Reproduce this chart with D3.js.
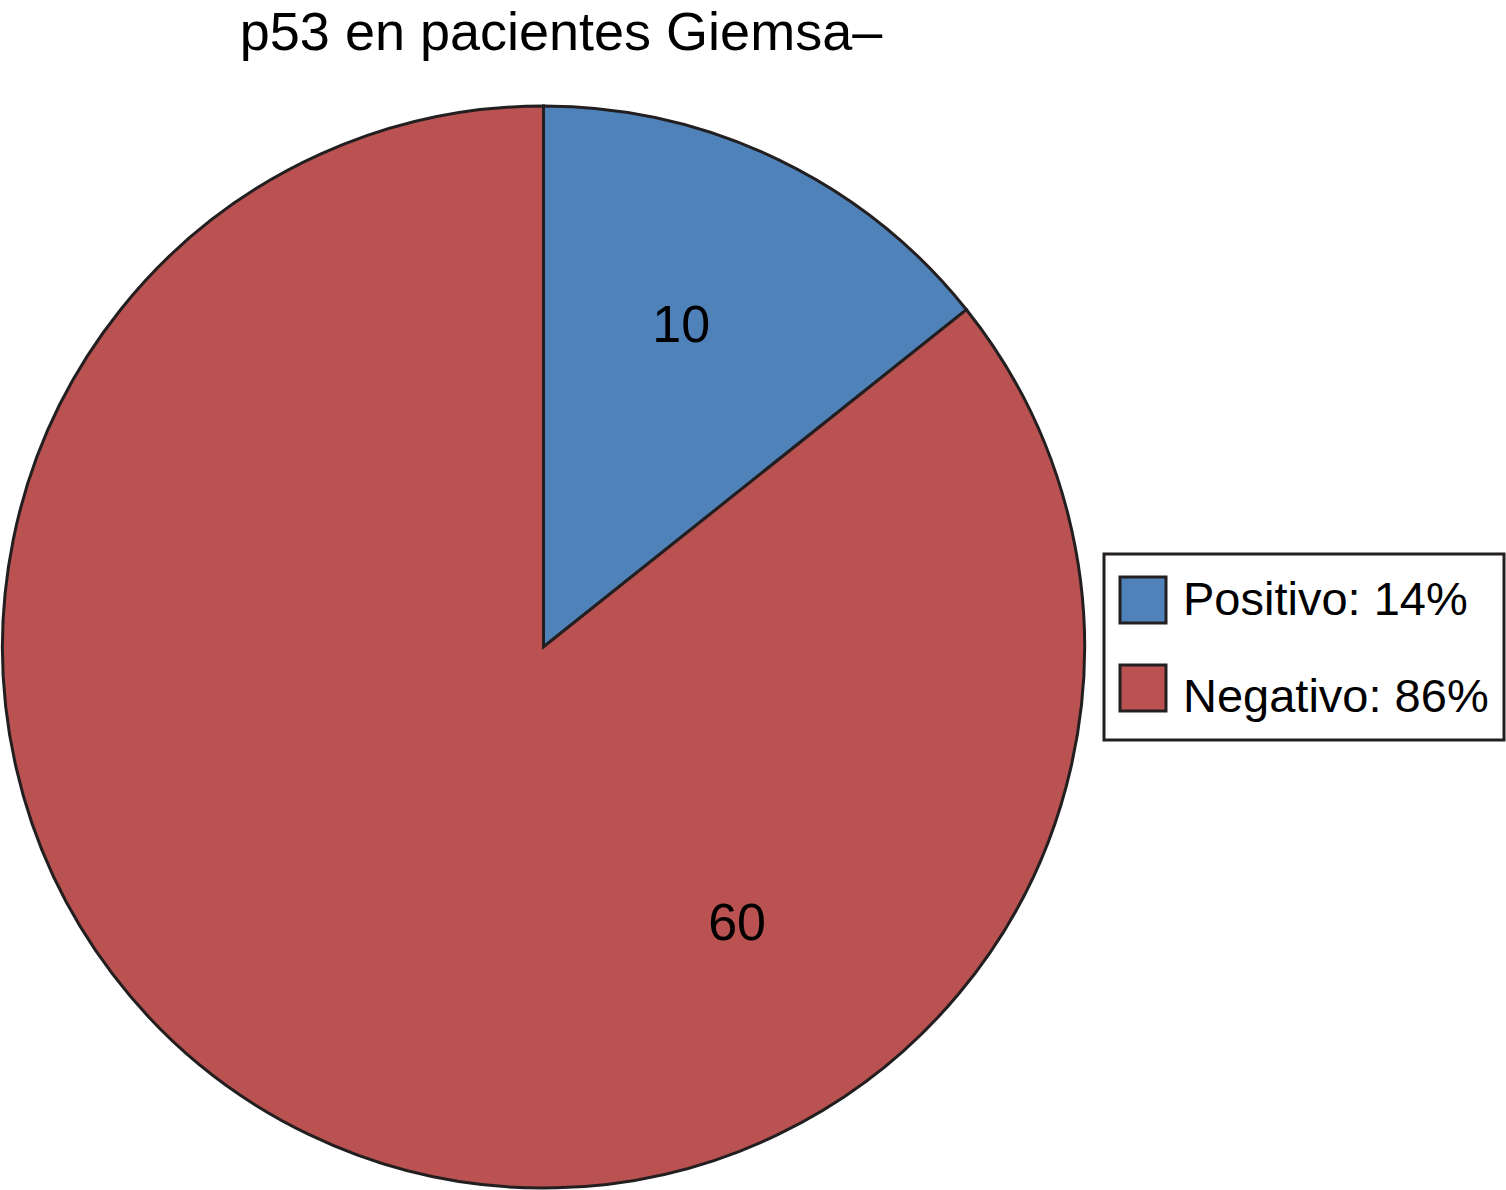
<!DOCTYPE html>
<head>
    <script src="https://d3js.org/d3.v7.min.js"></script>
    <style>
        body { margin: 0; background: #fff; }
        text { font-family: "Liberation Sans", Arial, sans-serif; fill: #000; }
    </style>
</head>
<body>
    <svg></svg>
</body>

<script>
    // Data
    var categories = ["Positivo", "Negativo"];
    var counts = [10, 60];
    var percents = ["14%", "86%"];
    var colors = ["#4F82B9", "#B95250"];

    // Variables
    var width = 1506;
    var height = 1190;
    var cx = 543.5, cy = 647, radius = 541;
    var stroke = "#231F20";

    var svg = d3.select('svg')
        .attr('width', width)
        .attr('height', height);

    // Title
    svg.append('text')
        .attr('x', 561)
        .attr('y', 50)
        .attr('text-anchor', 'middle')
        .style('font-size', '54px')
        .text('p53 en pacientes Giemsa\u2013');

    var g = svg.append('g')
        .attr('transform', 'translate(' + cx + ',' + cy + ')');

    var pie = d3.pie().sort(null).value(function (d) { return d; });
    var arcs = pie(counts);

    var arc = d3.arc().innerRadius(0).outerRadius(radius);

    g.selectAll('path')
        .data(arcs)
        .enter().append('path')
        .attr('d', arc)
        .style('fill', function (d, i) { return colors[i]; })
        .style('stroke', stroke)
        .style('stroke-width', 3)
        .style('stroke-linejoin', 'miter');

    // Value labels (placement offset from slice mid-angle, as in the original)
    var labelRadius = [351, 336];
    var labelShift = [-2.6, -60.9]; // degrees
    g.selectAll('text.val')
        .data(arcs)
        .enter().append('text')
        .attr('class', 'val')
        .attr('text-anchor', 'middle')
        .attr('dominant-baseline', 'central')
        .style('font-size', '52px')
        .attr('x', function (d, i) {
            var a = (d.startAngle + d.endAngle) / 2 + labelShift[i] * Math.PI / 180;
            return labelRadius[i] * Math.sin(a);
        })
        .attr('y', function (d, i) {
            var a = (d.startAngle + d.endAngle) / 2 + labelShift[i] * Math.PI / 180;
            return -labelRadius[i] * Math.cos(a);
        })
        .text(function (d) { return d.value; });

    // Legend
    var legend = svg.append('g').attr('transform', 'translate(1104,554)');
    legend.append('rect')
        .attr('width', 400)
        .attr('height', 186)
        .style('fill', '#fff')
        .style('stroke', stroke)
        .style('stroke-width', 3);

    var item = legend.selectAll('g.item')
        .data(categories)
        .enter().append('g')
        .attr('class', 'item');

    item.append('rect')
        .attr('x', 16)
        .attr('y', function (d, i) { return 23 + i * 88; })
        .attr('width', 46)
        .attr('height', 46)
        .style('fill', function (d, i) { return colors[i]; })
        .style('stroke', stroke)
        .style('stroke-width', 3);

    item.append('text')
        .attr('x', 79)
        .attr('y', function (d, i) { return 61 + i * 97; })
        .style('font-size', '47px')
        .text(function (d, i) { return d + ': ' + percents[i]; });
</script>
